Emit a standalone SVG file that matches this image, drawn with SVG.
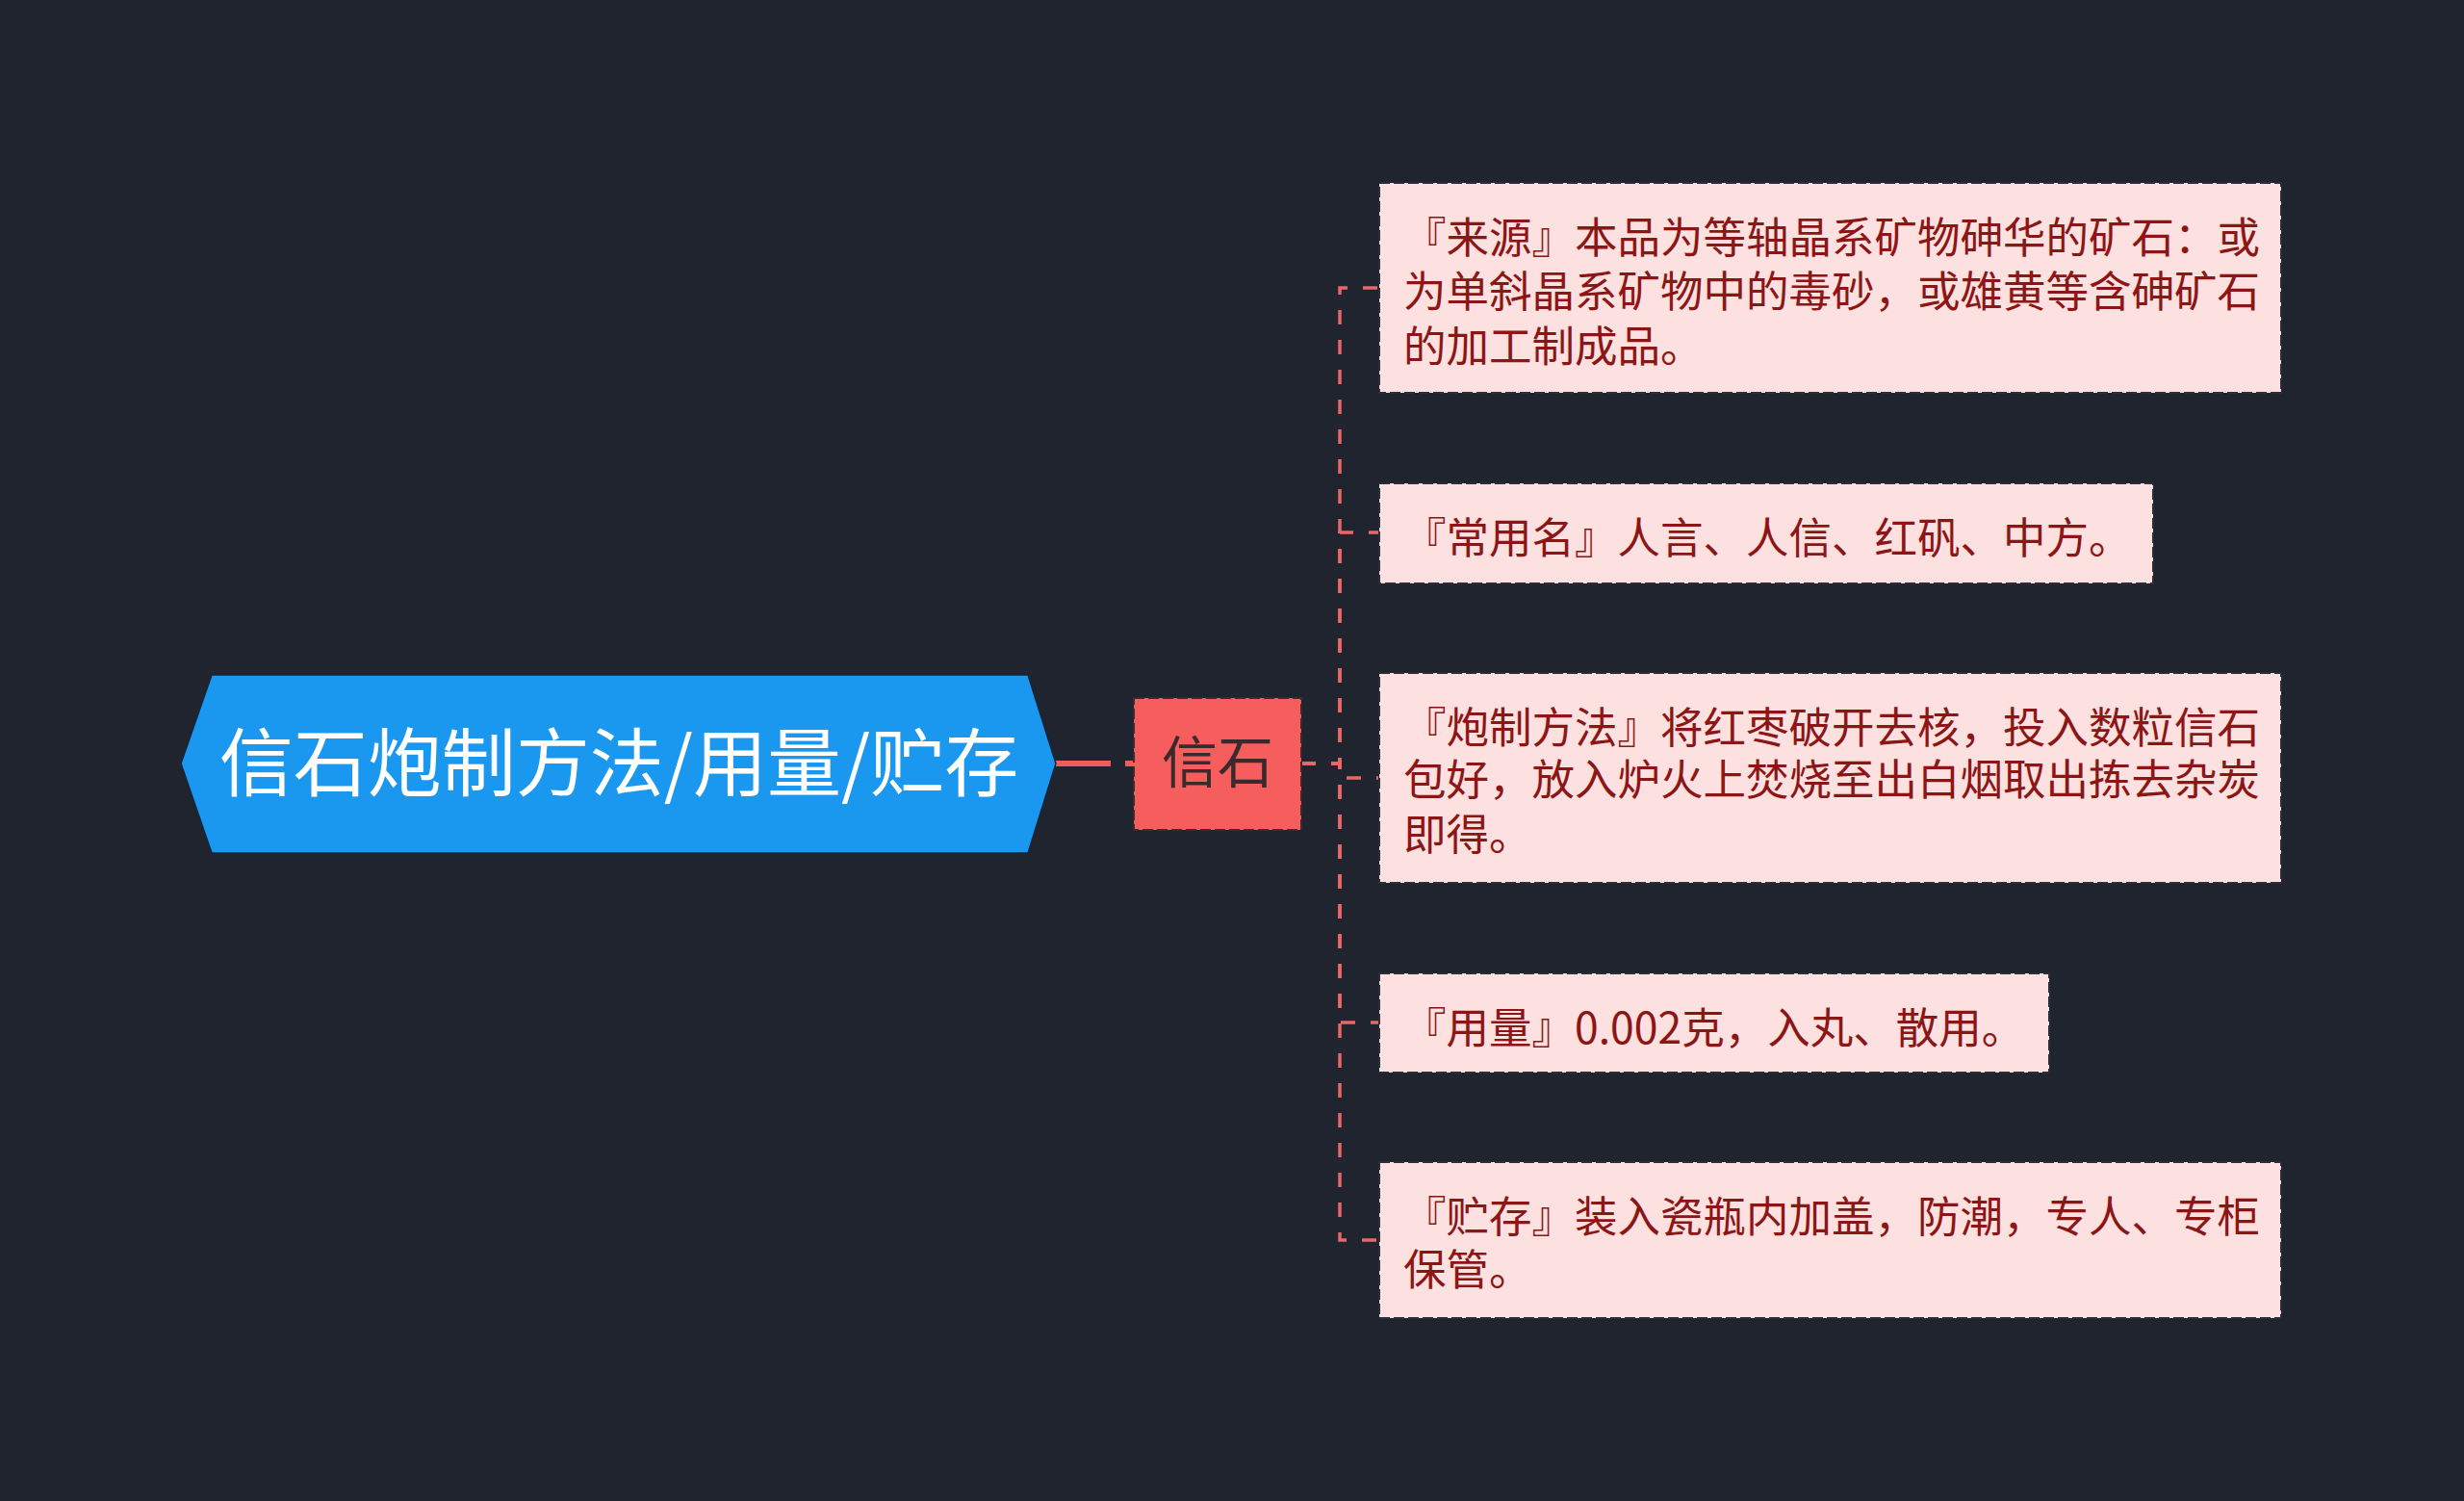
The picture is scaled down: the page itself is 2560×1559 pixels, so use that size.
<svg xmlns="http://www.w3.org/2000/svg" width="2560" height="1559" viewBox="0 0 2560 1559">
<style>
.cjk{font-family:"Noto Sans CJK SC","Noto Sans",sans-serif;}
.root-t{font-size:77px;fill:#ffffff;}
.mid-t{font-size:58px;fill:#3a2a2c;}
.leaf-t{font-size:44.5px;fill:#8c1515;}
.leaf{fill:#fde0e0;stroke:#2b2d38;stroke-width:2;stroke-dasharray:11 4;}
.mid{fill:#f65d5d;stroke:#3b2a30;stroke-width:2;stroke-dasharray:11 4;}
.conn{fill:none;stroke:#e8686a;stroke-width:3.5;stroke-dasharray:15 16;}
</style>
<rect width="2560" height="1559" fill="#20242f"/>
<g id="connectors">
<path d="M1097 793 H1178" fill="none" stroke="#f05c5c" stroke-width="6" stroke-dasharray="57 15"/>
<path class="conn" d="M1352 793 H1392 V299 H1432"/>
<path class="conn" d="M1352 793 H1392 V553 H1432"/>
<path class="conn" d="M1352 793 H1392 V808 H1432"/>
<path class="conn" d="M1352 793 H1392 V1062 H1432"/>
<path class="conn" d="M1352 793 H1392 V1288 H1432"/>
</g>
<g id="root">
<polygon points="188,793 220,701 1068,701 1097,793 1068,886 220,886" fill="#1a98f0" stroke="#15253d" stroke-width="1.5"/>
<text class="cjk root-t" x="643" y="821" text-anchor="middle">信石炮制方法/用量/贮存</text>
</g>
<g id="n-xinshi">
<rect class="mid" x="1178" y="725" width="174" height="137"/>
<text class="cjk mid-t" x="1265" y="813" text-anchor="middle">信石</text>
</g>
<g id="n-source">
<rect class="leaf" x="1433" y="190" width="937" height="218"/>
<text class="cjk leaf-t" x="1458" y="263">『来源』本品为等轴晶系矿物砷华的矿石：或</text>
<text class="cjk leaf-t" x="1458" y="319">为单斜晶系矿物中的毒砂，或雄黄等含砷矿石</text>
<text class="cjk leaf-t" x="1458" y="376">的加工制成品。</text>
</g>
<g id="n-name">
<rect class="leaf" x="1433" y="502" width="804" height="104"/>
<text class="cjk leaf-t" x="1458" y="575">『常用名』人言、人信、红矾、中方。</text>
</g>
<g id="n-method">
<rect class="leaf" x="1433" y="699" width="937" height="218"/>
<text class="cjk leaf-t" x="1458" y="772">『炮制方法』将红枣破开去核，投入数粒信石</text>
<text class="cjk leaf-t" x="1458" y="826">包好，放入炉火上焚烧至出白烟取出拣去杂炭</text>
<text class="cjk leaf-t" x="1458" y="883">即得。</text>
</g>
<g id="n-dose">
<rect class="leaf" x="1433" y="1011" width="696" height="103"/>
<text class="cjk leaf-t" x="1458" y="1084">『用量』0.002克，入丸、散用。</text>
</g>
<g id="n-store">
<rect class="leaf" x="1433" y="1207" width="937" height="162"/>
<text class="cjk leaf-t" x="1458" y="1280">『贮存』装入瓷瓶内加盖，防潮，专人、专柜</text>
<text class="cjk leaf-t" x="1458" y="1335">保管。</text>
</g>
</svg>
